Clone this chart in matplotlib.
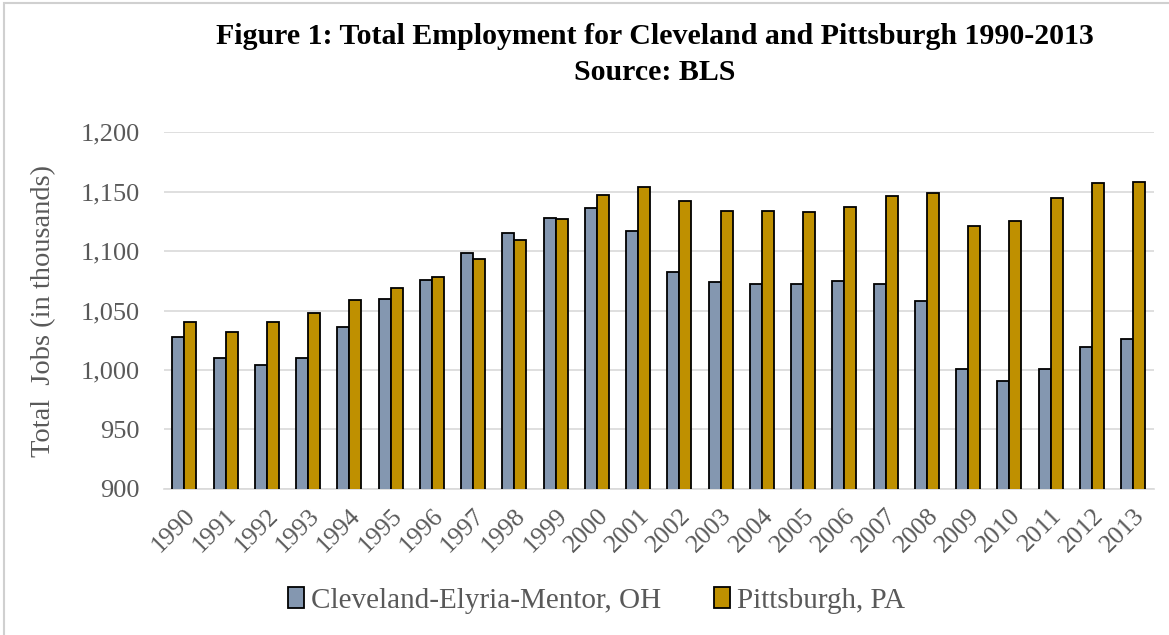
import numpy as np
import matplotlib.pyplot as plt
from matplotlib.patches import Rectangle

plt.rcParams["font.family"] = ["Liberation Serif", "DejaVu Serif"]

years = [str(y) for y in range(1990, 2014)]

# total jobs, thousands
cleveland = [1028, 1010, 1004, 1010, 1036, 1060, 1076, 1098, 1115, 1128, 1136, 1117,
             1082, 1074, 1072, 1072, 1075, 1072, 1058, 1001, 991, 1001, 1019, 1026]
pittsburgh = [1040, 1032, 1040, 1048, 1059, 1069, 1078, 1093, 1109, 1127, 1147, 1154,
              1142, 1134, 1134, 1133, 1137, 1146, 1149, 1121, 1125, 1145, 1157, 1158]

series_names = ["Cleveland-Elyria-Mentor, OH", "Pittsburgh, PA"]
colors = ["#8497B0", "#BF9000"]

text_gray = "#595959"

fig = plt.figure(figsize=(11.69, 6.35), dpi=100)
ax = fig.add_axes([0.140, 0.230, 0.847, 0.562])

x = np.arange(len(years))
w = 0.29
ax.bar(x - w / 2, cleveland, w, color=colors[0], edgecolor="black", linewidth=1.3,
       label=series_names[0], zorder=3)
ax.bar(x + w / 2, pittsburgh, w, color=colors[1], edgecolor="black", linewidth=1.3,
       label=series_names[1], zorder=3)

ax.set_xlim(-0.5, len(years) - 0.5)
ax.set_ylim(900, 1200)
ax.set_yticks(np.arange(900, 1201, 50))
ax.set_yticklabels([f"{v:,}" for v in range(900, 1201, 50)])
ax.set_xticks(x)
ax.set_xticklabels(years, rotation=45, ha="right", rotation_mode="anchor")

ax.grid(axis="y", color="#D9D9D9", linewidth=1.2, zorder=0)
for s in ["top", "right", "left"]:
    ax.spines[s].set_visible(False)
ax.spines["bottom"].set_color("#D9D9D9")
ax.spines["bottom"].set_linewidth(1.2)
ax.tick_params(axis="both", length=0, labelcolor=text_gray)
ax.tick_params(axis="y", pad=17, labelsize=19)
ax.tick_params(axis="x", pad=11, labelsize=18.5)

ax.set_ylabel("Total  Jobs (in thousands)", fontsize=20.5, color=text_gray, labelpad=18)

fig.text(0.56, 0.942, "Figure 1: Total Employment for Cleveland and Pittsburgh 1990-2013",
         ha="center", va="center", fontsize=21.5, fontweight="bold")
fig.text(0.56, 0.886, "Source: BLS", ha="center", va="center", fontsize=21.5,
         fontweight="bold")

leg = fig.legend(loc="center", bbox_to_anchor=(0.51, 0.055), ncol=2, frameon=False,
                 fontsize=21, handlelength=0.55, handleheight=0.75, handletextpad=0.25,
                 columnspacing=1.8)
for t in leg.get_texts():
    t.set_color(text_gray)

# chart frame
fig.patches.append(Rectangle((0.003, -0.01), 1.1, 1.005, transform=fig.transFigure,
                             fill=False, edgecolor="#D0D0D0", linewidth=1.5))

fig.savefig("out.png", dpi=100)
